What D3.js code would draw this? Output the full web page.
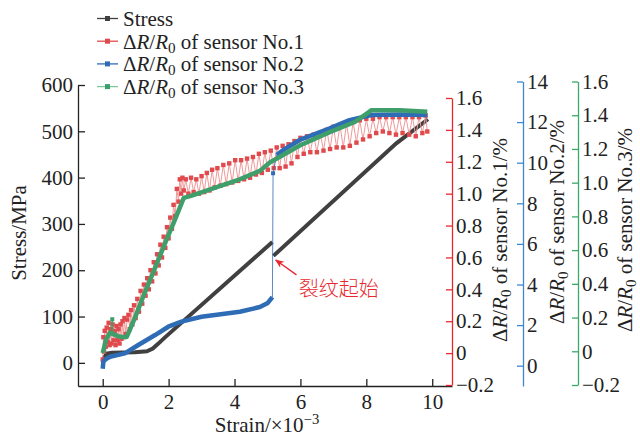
<!DOCTYPE html>
<html>
<head>
<meta charset="utf-8">
<script src="https://cdn.jsdelivr.net/npm/d3@7/dist/d3.min.js"></script>
<style>
  body { margin: 0; background: #fff; }
  svg { display: block; font-family: "Liberation Serif", "Times New Roman", serif; }
</style>
</head>
<body>
<div id="chart"></div>
<script>
(function () {
  'use strict';

  // ticks
  var strainTicks = [0, 2, 4, 6, 8, 10];
  var stressTicks = [0, 100, 200, 300, 400, 500, 600];
  var sensor1Ticks = [-0.2, 0, 0.2, 0.4, 0.6, 0.8, 1.0, 1.2, 1.4, 1.6];
  var sensor2Ticks = [0, 2, 4, 6, 8, 10, 12, 14];
  var sensor3Ticks = [-0.2, 0, 0.2, 0.4, 0.6, 0.8, 1.0, 1.2, 1.4, 1.6];

  // [strain x10^-3, stress MPa] - before and after the crack drop
  var stress = [[0, 1.5], [0.05, 12], [0.13, 20], [0.28, 22], [0.98, 23], [1.34, 25],
    [1.52, 31], [1.68, 41], [1.89, 55], [5.15, 261]];
  var stressAfterCrack = [[5.18, 231], [8.91, 474], [9.87, 526]];

  // [strain, dR/R0 %] sensor No.1
  var sensor1 = [
    [0.00, -0.04], [0.02, 0.10], [0.04, 0.01], [0.06, 0.14], [0.09, 0.04], [0.12, 0.16],
    [0.15, 0.07], [0.18, 0.19], [0.21, 0.05], [0.24, 0.15], [0.27, 0.06], [0.30, 0.18],
    [0.33, 0.08], [0.36, 0.14], [0.39, 0.05], [0.42, 0.17], [0.45, 0.08], [0.48, 0.15],
    [0.51, 0.06], [0.54, 0.18], [0.57, 0.09], [0.60, 0.20], [0.63, 0.10], [0.66, 0.22],
    [0.70, 0.12], [0.74, 0.21], [0.78, 0.24], [0.82, 0.15], [0.86, 0.27], [0.90, 0.18],
    [0.95, 0.30], [1.00, 0.22], [1.05, 0.34], [1.10, 0.26], [1.15, 0.39], [1.20, 0.31],
    [1.25, 0.43], [1.30, 0.36], [1.35, 0.47], [1.40, 0.40], [1.45, 0.52], [1.50, 0.45],
    [1.55, 0.57], [1.60, 0.50], [1.65, 0.62], [1.70, 0.55], [1.75, 0.68], [1.80, 0.60],
    [1.85, 0.73], [1.90, 0.66], [1.95, 0.79], [2.00, 0.72], [2.05, 0.85], [2.10, 0.78],
    [2.15, 0.93], [2.20, 0.86], [2.25, 1.03], [2.30, 0.95], [2.34, 1.09], [2.38, 1.00],
    [2.42, 1.10], [2.46, 1.02], [2.52, 1.09], [2.60, 1.00], [2.68, 1.10], [2.76, 1.01],
    [2.84, 1.09], [2.92, 1.00], [3.00, 1.11], [3.08, 1.01], [3.16, 1.13], [3.24, 1.02],
    [3.32, 1.15], [3.40, 1.04], [3.48, 1.16], [3.57, 1.05], [3.66, 1.18], [3.75, 1.06],
    [3.84, 1.19], [3.93, 1.07], [4.02, 1.21], [4.11, 1.08], [4.20, 1.21], [4.29, 1.09],
    [4.38, 1.22], [4.47, 1.10], [4.56, 1.23], [4.65, 1.12], [4.74, 1.25], [4.83, 1.13],
    [4.92, 1.26], [5.01, 1.15], [5.10, 1.27], [5.19, 1.16], [5.28, 1.29], [5.37, 1.16],
    [5.46, 1.30], [5.55, 1.17], [5.64, 1.31], [5.73, 1.19], [5.82, 1.33], [5.91, 1.23],
    [6.00, 1.35], [6.10, 1.25], [6.20, 1.36], [6.30, 1.26], [6.40, 1.37], [6.50, 1.26],
    [6.60, 1.38], [6.70, 1.27], [6.80, 1.40], [6.90, 1.28], [7.00, 1.42], [7.10, 1.29],
    [7.20, 1.43], [7.30, 1.29], [7.40, 1.44], [7.50, 1.30], [7.60, 1.45], [7.70, 1.32],
    [7.80, 1.46], [7.90, 1.34], [8.00, 1.47], [8.10, 1.36], [8.20, 1.47], [8.30, 1.38],
    [8.40, 1.48], [8.50, 1.39], [8.60, 1.48], [8.70, 1.38], [8.80, 1.48], [8.90, 1.37],
    [9.00, 1.48], [9.10, 1.38], [9.20, 1.48], [9.30, 1.37], [9.40, 1.48], [9.50, 1.36],
    [9.60, 1.48], [9.70, 1.38], [9.80, 1.49], [9.85, 1.39]
  ];

  // sensor No.2 (the jump at the crack is the sparse part)
  var sensor2 = [[0, -0.15], [0.02, 0.2], [0.10, 0.33], [0.22, 0.44], [0.67, 0.61], [1.08, 1.02],
    [1.59, 1.51], [1.99, 1.92], [2.39, 2.17], [3.00, 2.41], [4.16, 2.66], [4.77, 2.89],
    [5.01, 3.09], [5.15, 3.38], [5.17, 9.48], [5.28, 10.38], [5.52, 10.67], [5.98, 11.12],
    [6.89, 11.69], [7.49, 12.10], [8.16, 12.35], [9.01, 12.37], [9.85, 12.35]];
  var sensor2Jump = [[5.15, 3.38], [5.17, 9.48], [5.28, 10.38]];

  // sensor No.3
  var sensor3 = [[0, -0.01], [0.04, 0.02], [0.10, 0.07], [0.16, 0.09], [0.22, 0.11], [0.34, 0.10],
    [0.46, 0.09], [0.58, 0.085], [0.73, 0.085], [0.98, 0.20], [1.28, 0.35], [1.58, 0.49],
    [1.89, 0.64], [2.19, 0.78], [2.46, 0.91], [2.65, 0.92], [2.95, 0.94], [3.55, 0.98],
    [4.16, 1.02], [4.77, 1.07], [5.07, 1.12], [5.98, 1.22], [6.89, 1.30], [7.65, 1.36],
    [8.16, 1.43], [9.01, 1.43], [9.85, 1.42]];
  var sensor3Spike = [[0.22, 0.11], [0.29, 0.19], [0.34, 0.10]];

  // crack annotation, in strain / stress units
  var crackTip = [5.25, 222];
  var crackTail = [5.88, 190];
  var crackLabel = [5.95, 159];

  var colStress = "#404040", colS1 = "#e04a4d", colS1Line = "#ef9a9a",
      colS2 = "#2f6cb6", colS3 = "#3e9f6b";
  var axS1 = "#e8282e", axS2 = "#3f86cf", axS3 = "#3aaa6a";

  var svg = d3.select("#chart").append("svg").attr("width", 640).attr("height", 437);

  var x = d3.scaleLinear().domain([-0.75, 10.6]).range([78, 452]);
  var yStress = d3.scaleLinear().domain([-50, 600]).range([386, 85]);
  var yS1 = d3.scaleLinear().domain([-0.2, 1.6]).range([385, 98]);
  var yS2 = d3.scaleLinear().domain([-1, 14]).range([386, 81.5]);
  var yS3 = d3.scaleLinear().domain([-0.2, 1.6]).range([385, 81.5]);

  var fmt1 = function(d){ return d === 0 ? "0" : d3.format(".1f")(d); };
  var fontSize = 21;

  function styleAxis(g, color) {
    g.selectAll("path, line").attr("stroke", color).attr("stroke-width", 1.3);
    g.selectAll("text").attr("fill", "#222").attr("font-size", fontSize)
      .attr("font-family", "Liberation Serif, serif");
  }

  // axes
  var gx = svg.append("g").attr("transform", "translate(0,386)")
    .call(d3.axisBottom(x).tickValues(strainTicks).tickSize(-7).tickSizeOuter(0).tickPadding(8));
  styleAxis(gx, "#222");

  var gy = svg.append("g").attr("transform", "translate(78,0)")
    .call(d3.axisLeft(yStress).tickValues(stressTicks).tickSize(-7).tickSizeOuter(0).tickPadding(5));
  styleAxis(gy, "#222");

  var g1 = svg.append("g").attr("transform", "translate(452,0)")
    .call(d3.axisRight(yS1).tickValues(sensor1Ticks).tickFormat(fmt1).tickSize(-6).tickSizeOuter(0).tickPadding(4));
  styleAxis(g1, axS1);

  var g2 = svg.append("g").attr("transform", "translate(523,0)")
    .call(d3.axisRight(yS2).tickValues(sensor2Ticks).tickSize(-6).tickSizeOuter(0).tickPadding(4));
  styleAxis(g2, axS2);

  var g3 = svg.append("g").attr("transform", "translate(578,0)")
    .call(d3.axisRight(yS3).tickValues(sensor3Ticks).tickFormat(fmt1).tickSize(-6).tickSizeOuter(0).tickPadding(4));
  styleAxis(g3, axS3);

  // axis titles
  function deltaTitle(t, no) {
    t.append("tspan").text("Δ");
    t.append("tspan").attr("font-style", "italic").text("R");
    t.append("tspan").text("/");
    t.append("tspan").attr("font-style", "italic").text("R");
    t.append("tspan").attr("font-size", "0.72em").attr("dy", 4).text("0");
    t.append("tspan").attr("dy", -4).text(" of sensor No." + no);
  }

  svg.append("text").attr("transform", "translate(19,233) rotate(-90)")
    .attr("text-anchor", "middle").attr("dy", "0.35em").attr("font-size", fontSize)
    .attr("fill", "#222").text("Stress/MPa");

  [[501, 240, "1/%"], [558, 222, "2/%"], [626, 230, "3/%"]].forEach(function(p){
    var t = svg.append("text").attr("transform", "translate(" + p[0] + "," + p[1] + ") rotate(-90)")
      .attr("text-anchor", "middle").attr("dy", "0.3em").attr("font-size", fontSize).attr("fill", "#222");
    deltaTitle(t, p[2]);
  });

  var xt = svg.append("text").attr("x", 267).attr("y", 432).attr("text-anchor", "middle")
    .attr("font-size", fontSize).attr("fill", "#222");
  xt.append("tspan").text("Strain/×10");
  xt.append("tspan").attr("font-size", "0.7em").attr("dy", -8).text("−3");

  // series
  function line(ys) {
    return d3.line().x(function(d){ return x(d[0]); }).y(function(d){ return ys(d[1]); });
  }

  svg.append("path").attr("d", line(yStress)(stress)).attr("fill", "none")
    .attr("stroke", colStress).attr("stroke-width", 4);
  svg.append("path").attr("d", line(yStress)(stressAfterCrack)).attr("fill", "none")
    .attr("stroke", colStress).attr("stroke-width", 4);

  svg.append("path").attr("d", line(yS1)(sensor1)).attr("fill", "none")
    .attr("stroke", colS1Line).attr("stroke-width", 1);
  svg.selectAll("rect.s1").data(sensor1).enter().append("rect").attr("class", "s1")
    .attr("x", function(d){ return x(d[0]) - 2.2; })
    .attr("y", function(d){ return yS1(d[1]) - 2.2; })
    .attr("width", 4.4).attr("height", 4.4).attr("fill", colS1);

  var crackStrain = 5.16;
  svg.append("path").attr("d", line(yS2)(sensor2Jump)).attr("fill", "none")
    .attr("stroke", colS2).attr("stroke-width", 1).attr("stroke-opacity", 0.8);
  svg.append("path").attr("d", line(yS2)(sensor2.filter(function(d){ return d[0] < crackStrain; })))
    .attr("fill", "none").attr("stroke", colS2).attr("stroke-width", 4.5).attr("stroke-linejoin", "round");
  svg.append("path").attr("d", line(yS2)(sensor2.filter(function(d){ return d[0] > 5.2; })))
    .attr("fill", "none").attr("stroke", colS2).attr("stroke-width", 4.5).attr("stroke-linejoin", "round");
  svg.append("rect").datum(sensor2Jump[1])
    .attr("x", function(d){ return x(d[0]) - 2; }).attr("y", function(d){ return yS2(d[1]) - 2; })
    .attr("width", 4).attr("height", 4).attr("fill", colS2);

  svg.append("path").attr("d", line(yS3)(sensor3Spike)).attr("fill", "none")
    .attr("stroke", colS3).attr("stroke-width", 1);
  svg.append("rect").datum(sensor3Spike[1])
    .attr("x", function(d){ return x(d[0]) - 2; }).attr("y", function(d){ return yS3(d[1]) - 2; })
    .attr("width", 4).attr("height", 4).attr("fill", colS3);
  svg.append("path").attr("d", line(yS3)(sensor3)).attr("fill", "none")
    .attr("stroke", colS3).attr("stroke-width", 4.5).attr("stroke-linejoin", "round");

  // crack annotation
  svg.append("defs").append("marker").attr("id", "arrow")
    .attr("viewBox", "0 0 10 10").attr("refX", 9).attr("refY", 5)
    .attr("markerWidth", 7).attr("markerHeight", 7).attr("orient", "auto")
    .append("path").attr("d", "M0,1 L10,5 L0,9 L3,5 Z").attr("fill", "#e8282e");
  svg.append("line")
    .attr("x1", x(crackTail[0])).attr("y1", yStress(crackTail[1]))
    .attr("x2", x(crackTip[0])).attr("y2", yStress(crackTip[1]))
    .attr("stroke", "#e8282e").attr("stroke-width", 1.3).attr("marker-end", "url(#arrow)");
  svg.append("text").attr("x", x(crackLabel[0])).attr("y", yStress(crackLabel[1]))
    .attr("dy", "0.35em").attr("font-family", "Noto Sans CJK SC, sans-serif")
    .attr("font-size", 20).attr("font-weight", 300).attr("fill", "#e8282e").text("裂纹起始");

  // legend
  var legendItems = [
    {name: "Stress", color: colStress, line: colStress},
    {name: "1", color: colS1, line: colS1},
    {name: "2", color: colS2, line: colS2},
    {name: "3", color: colS3, line: "#7cc79c"}
  ];
  var lg = svg.append("g").selectAll("g").data(legendItems).enter().append("g")
    .attr("transform", function(d, i){ return "translate(97," + (18.5 + i * 22.7) + ")"; });
  lg.append("line").attr("x1", 0).attr("x2", 21).attr("stroke", function(d){ return d.line; })
    .attr("stroke-width", 1.3);
  lg.append("rect").attr("x", 8).attr("y", -2.5).attr("width", 5).attr("height", 5)
    .attr("fill", function(d){ return d.color; });
  lg.append("text").attr("x", 26).attr("dy", "0.35em").attr("font-size", fontSize).attr("fill", "#222")
    .each(function(d){
      var t = d3.select(this);
      if (d.name === "Stress") t.text("Stress");
      else deltaTitle(t, d.name);
    });
}());
</script>
</body>
</html>
